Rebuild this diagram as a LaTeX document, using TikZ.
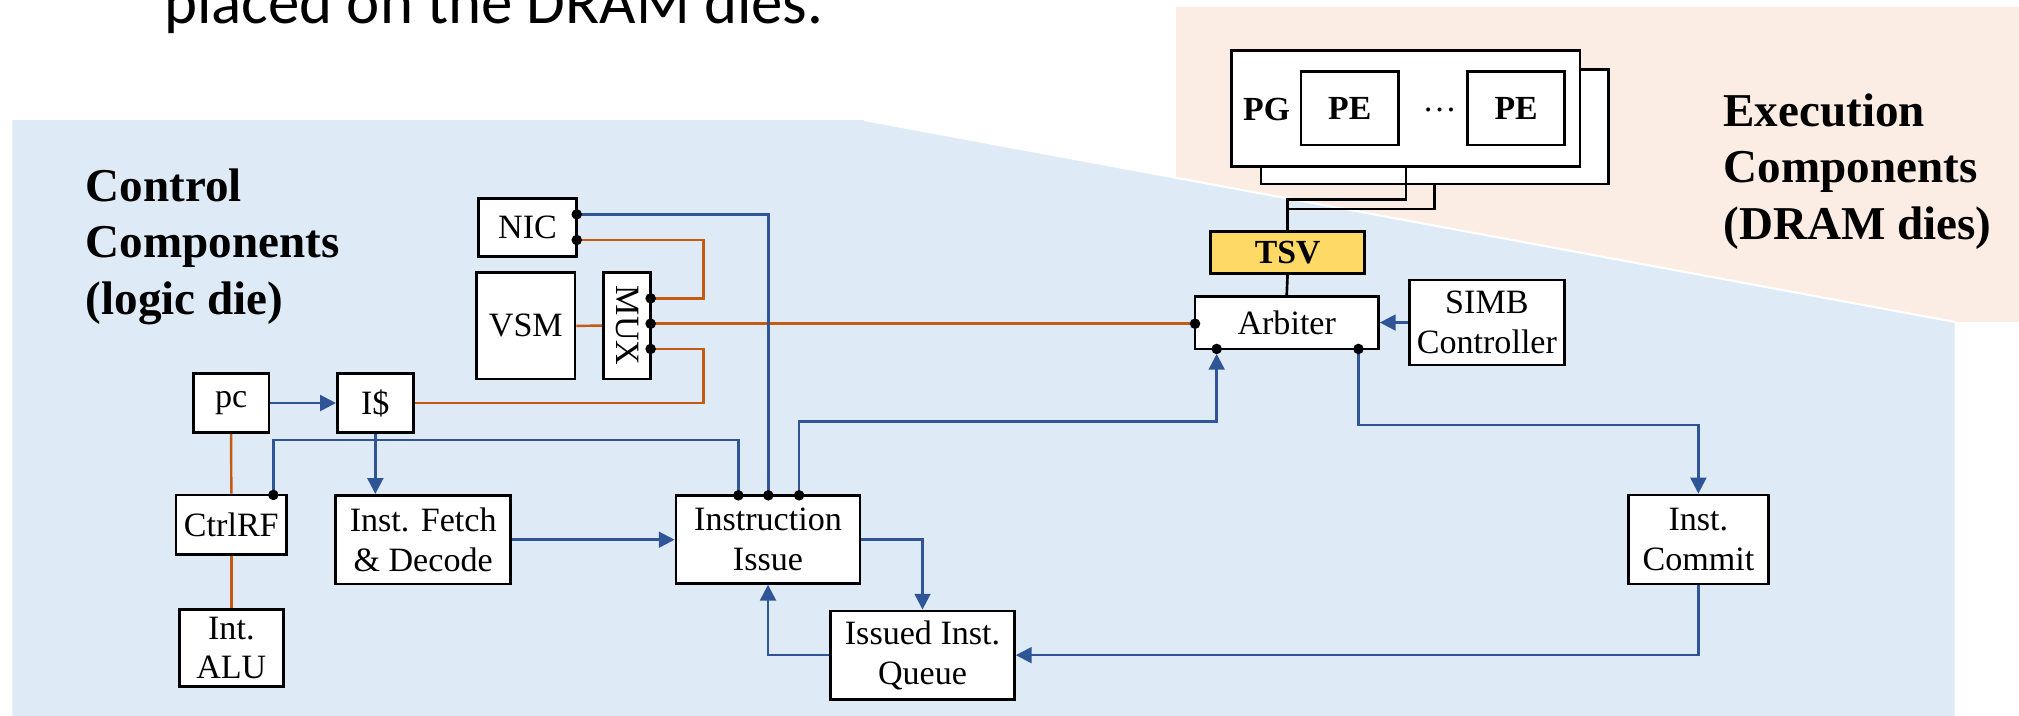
\documentclass[tikz,border=0pt]{standalone}
\usepackage{fontspec}
\setmainfont{Liberation Serif}
\newfontfamily\slidefont{Carlito}
\usetikzlibrary{arrows.meta}
\definecolor{logicbg}{RGB}{222,234,246}
\definecolor{drambg}{RGB}{251,237,228}
\definecolor{ctrlblue}{RGB}{47,85,151}
\definecolor{dataorange}{RGB}{197,90,17}
\definecolor{tsvgold}{RGB}{255,217,102}

\begin{document}
\begin{tikzpicture}[x=0.012876cm, y=-0.012876cm,
  sz/.style 2 args={minimum width=#1*0.012876cm, minimum height=#2*0.012876cm},
  box/.style={draw=black, line width=0.8pt, fill=white, inner sep=0pt, align=center,
    font=\fontsize{9.7}{11.3}\selectfont},
  boldbox/.style={box, font=\fontsize{9.6}{11}\selectfont\bfseries},
  ctl/.style={draw=ctrlblue, line width=0.7pt},
  ctlarrow/.style={ctl, -{Triangle[length=4.5pt,width=4.5pt]}},
  dat/.style={draw=dataorange, line width=0.7pt},
  wire/.style={draw=black, line width=0.75pt},
  title/.style={align=left, inner sep=0pt, font=\fontsize{13.4}{16.1}\selectfont\bfseries},
]
\useasboundingbox (0,0) rectangle (1568,556);

% die regions
\fill[drambg] (913,5.7) rectangle (1568,250);
\fill[logicbg] (9.6,93.2) -- (671,93.2) -- (1518,250) -- (1518,556) -- (9.6,556) -- cycle;
\draw[white, line width=0.6pt] (671,93.2) -- (1518,250);

% slide caption
\node[anchor=base west, inner sep=0pt, font=\slidefont\fontsize{17.9}{20}\selectfont]
  (caption) at (127,17.9) {placed on the DRAM dies.};

% region titles (anchored at the baseline of their last line)
\node[title, anchor=base west] (ctrltitle) at (66,244) {Control\\Components\\(logic die)};
\node[title, anchor=base west] (exectitle) at (1338,186) {Execution\\Components\\(DRAM dies)};

% execution side: stacked PGs, TSV, arbiter
\node[box, sz={269.7}{89.1}] (pgback) at (1114.15,98.35) {};
\node[box, sz={270.4}{89.6}] (pgfront) at (1091.8,84.2) {};
\node[inner sep=0pt, font=\fontsize{9.6}{11}\selectfont\bfseries] (pglabel) at (983.7,85.4) {PG};
\node[boldbox, sz={75.6}{56.9}] (pe1) at (1048.2,84.15) {PE};
\node[inner sep=0pt, font=\fontsize{9.7}{11.3}\selectfont] (pedots) at (1118,85.4) {…};
\node[boldbox, sz={75.2}{56.9}] (pe2) at (1177.4,84.15) {PE};
\node[boldbox, fill=tsvgold, sz={119.5}{32.3}] (tsv) at (999.95,196.15) {TSV};
\node[box, sz={142.4}{40.6}] (arb) at (999.3,250.7) {Arbiter};
\node[box, sz={120.5}{66}] (simb) at (1154.75,250.5) {SIMB\\Controller};

% control side
\node[box, sz={76.4}{45.3}] (nic) at (409.7,176.65) {NIC};
\node[box, sz={76.4}{82.5}] (vsm) at (408.4,253.05) {VSM};
\node[box, sz={36.7}{82.8}] (mux) at (486.95,252.9) {};
\node[rotate=-90, inner sep=0pt, font=\fontsize{9.7}{11.3}\selectfont] (muxlabel) at (mux.center) {MUX};
\node[box, sz={58.8}{46}] (pc) at (179.5,313) {pc};
\node[box, sz={59}{46}] (icache) at (291.5,313) {I\$};
\node[box, sz={85.9}{46.1}] (ctrlrf) at (179.65,407.45) {CtrlRF};
\node[box, sz={80.7}{60.1}] (alu) at (179.65,503.25) {Int.\\ALU};
\node[box, sz={135.9}{68.9}] (fetch) at (328.65,419.15) {Inst. Fetch\\\& Decode};
\node[box, sz={142.9}{68.3}] (issue) at (596.45,418.85) {Instruction\\Issue};
\node[box, sz={142.7}{68.6}] (queue) at (716.45,508.8) {Issued Inst.\\Queue};
\node[box, sz={108.8}{69.2}] (commit) at (1319,419) {Inst.\\Commit};

% port positions on box borders
\coordinate (nicC) at (447.9,166.5);
\coordinate (nicD) at (447.9,186.4);
\coordinate (muxA) at (505.3,231.7);
\coordinate (muxB) at (505.3,251.4);
\coordinate (muxC) at (505.3,271);
\coordinate (arbL) at (928.1,251.4);
\coordinate (arbB1) at (944.9,271);
\coordinate (arbB2) at (1055,271);
\coordinate (rfT) at (212.3,384.4);
\coordinate (issT1) at (573.4,384.7);
\coordinate (issT2) at (596.7,384.7);
\coordinate (issT3) at (620.6,384.7);

% PG stack to TSV
\draw[wire] (pgfront.south) -- (1091.8,154.8) -| (tsv.north);
\draw[wire] (pgback.south) -- (1114.15,162.3) -| (tsv.north);
\draw[wire] (tsv.south) -- (arb.north);

% data paths
\draw[dat] (nicD) -| (546.2,231.7) -- (muxA);
\draw[dat] (muxB) -- (arbL);
\draw[dat] (muxC) -| (546.2,313) -- (icache.east);
\draw[dat] (vsm.east) -- (mux.west);
\draw[dat] (pc.south) -- (ctrlrf.north);
\draw[dat] (ctrlrf.south) -- (alu.north);

% control paths
\draw[ctlarrow] (pc.east) -- (icache.west);
\draw[ctlarrow] (icache.south) -- (icache.south |- fetch.north);
\draw[ctl] (rfT) |- (573.4,341.7) -- (issT1);
\draw[ctl] (nicC) -| (issT2);
\draw[ctlarrow, shorten >=1.4pt] (issT3) |- (944.9,327.5) -- (arbB1);
\draw[ctlarrow] (arbB2) -- (1055,330) -| (commit.north);
\draw[ctlarrow] (commit.south) |- (queue.east);
\draw[ctlarrow] (queue.west) -| (issue.south);
\draw[ctlarrow] (issue.east) -| (queue.north);
\draw[ctlarrow] (fetch.east) -- (fetch.east -| issue.west);
\draw[ctlarrow] (simb.west) -- (simb.west -| arb.east);

% connection dots
\foreach \p in {nicC,nicD,muxA,muxB,muxC,arbL,arbB1,arbB2,rfT,issT1,issT2,issT3}
  \fill (\p) circle (1.5pt);
\end{tikzpicture}
\end{document}
